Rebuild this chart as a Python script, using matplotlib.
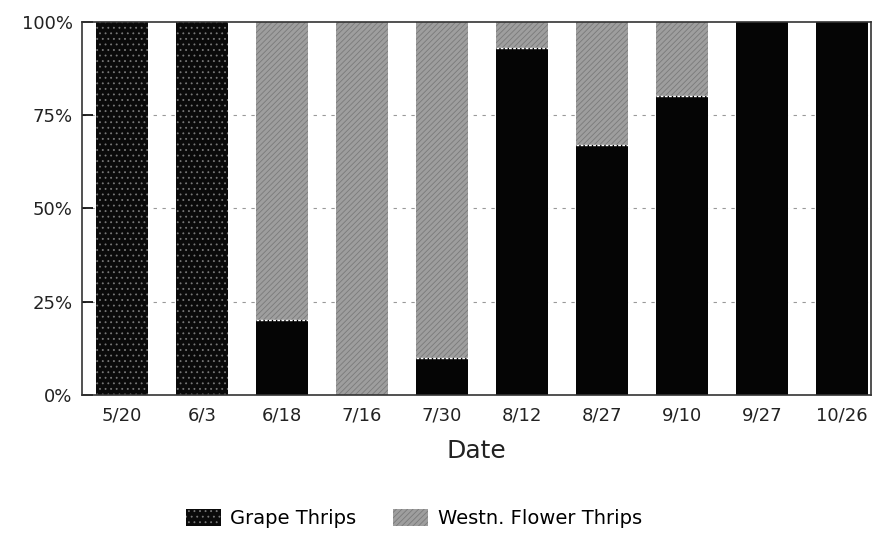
import numpy as np
import matplotlib.pyplot as plt
from matplotlib.patches import Patch

dates = ['5/20', '6/3', '6/18', '7/16', '7/30', '8/12', '8/27', '9/10', '9/27', '10/26']
grape = [100, 100, 20, 0, 10, 93, 67, 80, 100, 100]
flower = [100 - g for g in grape]

plt.rcParams['font.family'] = ['DejaVu Sans']
plt.rcParams['hatch.linewidth'] = 0.6

fig = plt.figure(figsize=(8.75, 5.33), dpi=100, facecolor='white')
ax = fig.add_axes([0.094, 0.259, 0.901, 0.70])

x = np.arange(len(dates))
w = 0.65

# faint dashed gridlines behind bars
for yv in [25, 50, 75]:
    ax.axhline(yv, color='#999999', lw=0.8, ls=(0, (3, 5)), zorder=0)

for i, (g, f) in enumerate(zip(grape, flower)):
    # first two dates are shown speckled
    if i < 2:
        ax.bar(x[i], g, w, color='#0a0a0a', edgecolor='#777777', hatch='...',
               linewidth=0, zorder=2)
    else:
        ax.bar(x[i], g, w, color='#050505', linewidth=0, zorder=2)
    if f > 0:
        ax.bar(x[i], f, w, bottom=g, color='#9e9e9e', edgecolor='#7a7a7a',
               hatch='//////', linewidth=0, zorder=2)
        if g > 0:
            ax.plot([x[i] - w / 2, x[i] + w / 2], [g, g], color='white',
                    lw=1.0, ls=(0, (2, 1)), zorder=3)

ax.set_xlim(-0.5, 9.36)
ax.set_ylim(0, 100)
ax.set_yticks([0, 25, 50, 75, 100])
ax.set_yticklabels(['0%', '25%', '50%', '75%', '100%'], fontsize=13, color='#222222')
ax.set_xticks(x)
ax.set_xticklabels(dates, fontsize=13, color='#222222')
ax.tick_params(axis='y', direction='in', length=8, width=1.2, pad=7)
ax.tick_params(axis='x', length=0, pad=8)
for s in ax.spines.values():
    s.set_linewidth(1.2)
    s.set_color('#333333')

ax.set_xlabel('Date', fontsize=18, color='#222222', labelpad=11)

handles = [
    Patch(facecolor='#0a0a0a', edgecolor='#777777', hatch='...', linewidth=0, label='Grape Thrips'),
    Patch(facecolor='#9e9e9e', edgecolor='#7a7a7a', hatch='//////', linewidth=0, label='Westn. Flower Thrips'),
]
fig.legend(handles=handles, loc='center', bbox_to_anchor=(0.473, 0.027), ncol=2,
           frameon=False, fontsize=14, handlelength=1.8, handleheight=1.0,
           columnspacing=1.9, handletextpad=0.5)

fig.savefig('out.png', dpi=100, facecolor='white')
